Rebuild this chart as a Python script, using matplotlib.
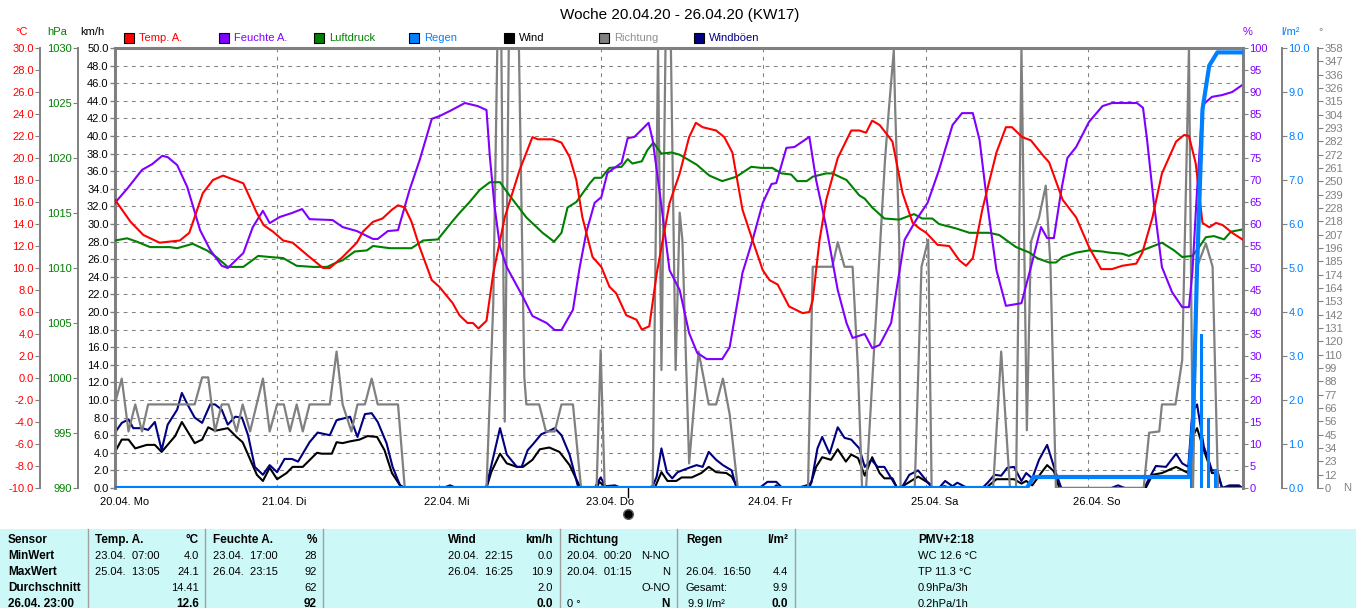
import matplotlib

matplotlib.use("Agg")
import matplotlib.pyplot as plt
from matplotlib import font_manager
from matplotlib.lines import Line2D
from matplotlib.patches import Rectangle
from matplotlib.transforms import offset_copy


W, H = 1356, 608
DPI = 100
PT = 72 / DPI  # points per pixel

installed = {f.name for f in font_manager.fontManager.ttflist}
NARROW = "Liberation Sans Narrow" if "Liberation Sans Narrow" in installed else "Liberation Sans"
plt.rcParams["font.family"] = ["Liberation Sans", "DejaVu Sans"]
plt.rcParams["axes.unicode_minus"] = False

# ---- data (hour since 20.04. 00:00, value) ----
temp = [(0, 16.2), (2.3, 14.2), (4.2, 13.0), (6.6, 12.3), (9.6, 12.5), (11, 13.2), (13, 16.8),
        (14.5, 18.0), (16, 18.4), (19, 17.7), (21, 15.0), (22, 13.9), (23.4, 13.3), (24.9, 12.5),
        (26.3, 12.3), (28.8, 11.0), (30.8, 10.0), (31.8, 10.0), (33.7, 11.0), (35.8, 12.3),
        (36.7, 13.3), (38.2, 14.2), (39.6, 14.5), (41, 15.3), (41.9, 15.7), (42.9, 15.5),
        (43.9, 14.2), (45.1, 11.9), (46.9, 8.9), (48, 8.3), (50, 6.8), (51, 5.7), (52.2, 5.0),
        (53, 5.0), (53.8, 4.5), (55, 5.2), (56, 9.5), (57.7, 14.6), (59.9, 18.9), (61.8, 21.9),
        (62.6, 21.7), (64.8, 21.7), (66.1, 21.4), (67.3, 20.1), (68.3, 18.0), (69.2, 14.6),
        (70.7, 11.0), (72, 10.1), (73.2, 8.3), (74.2, 7.7), (75.7, 5.7), (77.2, 5.3), (78, 4.4),
        (79.1, 4.7), (80.2, 9.5), (82.1, 15.9), (83.6, 18.6), (85, 21.9), (86, 23.2), (87, 22.8),
        (89, 22.5), (90.2, 21.9), (91.4, 20.5), (92.9, 15.3), (94.4, 12.5), (95.9, 9.8),
        (96.9, 8.9), (98.1, 8.5), (99.8, 6.5), (101.8, 5.9), (102.8, 6.0), (103.3, 7.1),
        (104.3, 12.5), (105.3, 16.2), (107, 20.0), (109, 22.5), (110.2, 22.5), (111.2, 22.3),
        (112.1, 23.4), (113.2, 23.0), (114.6, 21.9), (115.1, 21.5), (116.6, 16.8), (118.1, 14.1),
        (119.1, 13.6), (120.1, 13.2), (121.8, 12.1), (123.5, 12.0), (125, 10.7), (126, 10.2),
        (127, 10.9), (128.4, 15.3), (130.5, 20.5), (131.9, 22.8), (132.8, 22.8), (134.3, 21.9),
        (135.6, 21.6), (137.3, 20.3), (138.3, 19.6), (140.3, 16.2), (142.3, 14.6), (144.2, 11.9),
        (146, 9.9), (147.6, 9.9), (149.1, 10.2), (151.2, 10.4), (152.1, 11.4), (153.6, 14.6),
        (155, 18.6), (157.1, 21.5), (158.3, 22.1), (159, 22.0), (160, 19.5), (161, 14.1),
        (162, 13.7), (163, 14.1), (164, 13.9), (165.4, 13.2), (166.9, 12.6)]

humidity = [(0, 64.8), (1.9, 68.2), (4, 72.3), (5.5, 73.6), (7, 75.5), (7.8, 75.2), (9.2, 73.4),
            (10.7, 68.4), (12.6, 58.6), (14.1, 54.1), (15.8, 50.5), (16.7, 50.0), (19, 53.4),
            (20.4, 59.3), (21.9, 63.0), (22.9, 60.2), (24.4, 61.6), (26.2, 62.5), (27.7, 63.4),
            (28.8, 61.1), (32.2, 60.9), (33.7, 59.3), (35.8, 58.4), (38.2, 56.6), (38.9, 56.6),
            (40.4, 58.4), (41.9, 58.6), (43.6, 67.7), (45.1, 74.5), (46.9, 83.9), (48, 84.5),
            (49.6, 85.7), (51.8, 87.5), (53.7, 86.8), (55, 85.9), (55.5, 75.2), (56.2, 63.9),
            (57, 54.8), (58, 50.2), (60.4, 43.4), (61.8, 39.1), (63.9, 37.5), (65.1, 35.9),
            (66.1, 35.9), (67.8, 40.5), (68.8, 50.2), (69.8, 58.2), (71, 64.8), (72, 66.1),
            (72.9, 71.6), (75, 73.9), (75.9, 79.5), (76.9, 79.8), (79, 83.0), (79.6, 79.1),
            (80.6, 67.7), (82.1, 49.5), (83.6, 45.0), (85, 35.2), (86.2, 30.7), (87.6, 29.3),
            (89.9, 29.3), (91, 32.0), (92.9, 48.9), (94.4, 56.4), (95.9, 64.8), (97.2, 69.1),
            (97.9, 69.3), (99.4, 77.3), (100.6, 77.5), (102.8, 79.8), (103.8, 70.0), (105.3, 59.3),
            (107, 45.0), (108.3, 37.5), (109.2, 34.1), (110.2, 34.6), (111, 35.0), (112.1, 31.8),
            (113.2, 32.5), (114.9, 37.5), (116.9, 56.4), (118.6, 60.9), (120.3, 64.8), (122, 72.3),
            (124, 82.5), (125.4, 85.2), (127, 85.2), (128, 79.1), (129.2, 63.9), (130.5, 49.5),
            (131.9, 41.4), (134.2, 42.0), (135.6, 50.2), (137.1, 59.3), (138, 56.8), (139, 56.8),
            (140.1, 67.7), (141, 75.0), (142.3, 77.5), (143.2, 80.2), (144.2, 83.2), (146.2, 86.8),
            (147.6, 87.5), (151.3, 87.5), (152.2, 86.4), (152.8, 79.1), (153.8, 64.8), (155, 50.2),
            (156.5, 44.5), (158, 41.1), (159, 41.1), (159.5, 48.9), (160.2, 67.7), (161, 87.0),
            (162.4, 88.9), (163.9, 89.3), (165.4, 90.0), (166.9, 91.6)]

pressure = [(0, 1012.5), (1.8, 1012.7), (3.2, 1012.4), (5.2, 1011.9), (8.1, 1011.9), (9.2, 1011.8),
            (11.5, 1012.2), (13.6, 1011.6), (15, 1011.0), (16.7, 1010.1), (19, 1010.1),
            (21.2, 1011.1), (22.9, 1011.0), (24.9, 1010.9), (26.9, 1010.2), (29.3, 1010.1),
            (31.4, 1010.1), (32.8, 1010.5), (33.7, 1010.7), (35.5, 1011.5), (37.3, 1011.6),
            (38.2, 1012.0), (40.7, 1011.8), (43.9, 1011.8), (45.6, 1012.5), (47.8, 1012.6),
            (49.9, 1014.2), (51, 1015.0), (52.5, 1016.0), (54, 1017.1), (55.5, 1017.8),
            (57, 1017.8), (58.4, 1016.6), (60.9, 1014.6), (63.3, 1013.2), (65, 1012.4),
            (66.1, 1013.2), (67, 1015.5), (68.3, 1016.0), (70.3, 1017.7), (71, 1018.2),
            (72, 1018.2), (73.2, 1019.1), (75, 1019.2), (75.9, 1019.9), (76.6, 1019.5),
            (78, 1019.7), (78.8, 1020.7), (79.7, 1021.4), (80.9, 1020.4), (82.4, 1020.5),
            (83.6, 1020.3), (86.1, 1019.4), (88, 1018.4), (89.9, 1017.9), (92, 1018.3),
            (94.2, 1019.2), (95.7, 1019.1), (97.3, 1019.1), (98.7, 1018.6), (100.1, 1018.5),
            (101, 1017.9), (102.4, 1017.9), (103.3, 1018.3), (105.3, 1018.6), (106.2, 1018.6),
            (108.3, 1018.0), (110.2, 1016.6), (111, 1016.3), (112.1, 1015.5), (113.9, 1014.5),
            (116.1, 1014.4), (118.3, 1014.9), (119.5, 1014.5), (121, 1014.5), (122, 1014.0),
            (124.5, 1013.6), (126.5, 1013.2), (129.4, 1013.2), (130.9, 1013.0), (133.4, 1011.9),
            (135.4, 1011.4), (136.5, 1010.9), (138.3, 1010.5), (139.3, 1010.5), (140.3, 1011.0),
            (142.3, 1011.4), (144.2, 1011.6), (146.2, 1011.5), (147.2, 1011.4), (149.1, 1011.3),
            (150.1, 1011.1), (152.1, 1011.6), (155, 1012.3), (156.8, 1011.6), (158, 1011.0),
            (159.5, 1011.1), (160.5, 1011.9), (161.5, 1012.8), (162.7, 1012.9), (164.2, 1012.6),
            (165.2, 1013.3), (166.9, 1013.5)]

wind = [(0, 4.1), (1, 5.5), (2, 5.5), (3, 4.5), (4.7, 4.9), (5.9, 4.9), (6.9, 4.1), (8.9, 5.9),
        (9.9, 7.5), (11.8, 5.1), (12.9, 5.5), (13.8, 6.9), (14.8, 6.5), (16.7, 6.8), (18, 5.8),
        (18.9, 5.2), (21, 1.5), (21.9, 0.8), (22.9, 2.3), (24, 1.0), (25.4, 1.7), (26.3, 2.4),
        (27.8, 2.4), (29.9, 4.0), (30.6, 3.9), (32.1, 3.9), (32.8, 5.2), (33.7, 5.1), (34.8, 5.3),
        (36.2, 5.5), (37.4, 5.9), (38.8, 5.8), (39.9, 4.3), (41, 1.7), (42.2, 0.3), (42.9, 0),
        (55, 0), (55.7, 1.8), (57, 3.9), (58, 2.8), (59.5, 2.4), (60.4, 2.4), (61.8, 3.2),
        (62.9, 4.4), (64.3, 4.6), (65.8, 4.1), (67.3, 2.6), (68.8, 0.2), (69.2, 0), (71.3, 0),
        (71.7, 0.7), (72.5, 0.2), (73, 0), (79.9, 0), (80.9, 1.8), (81.8, 0.8), (83.1, 0.8),
        (83.9, 1.2), (85.4, 1.2), (86.8, 1.7), (87.9, 2.4), (89, 1.8), (90.5, 1.7), (91.3, 1.3),
        (92.2, 0), (97.5, 0), (97.9, 0.3), (98.4, 0), (102.8, 0), (103.8, 2.4), (104.7, 3.5),
        (106, 3.2), (107, 4.4), (108.2, 3.0), (109, 3.8), (110, 3.4), (111, 1.4), (112.1, 3.5),
        (113.2, 1.7), (113.9, 1.1), (115.1, 1.1), (115.8, 0), (116.6, 0.2), (118.9, 1.3),
        (120.6, 0.5), (121, 0), (122.9, 0.2), (123.5, 0), (129, 0), (129.4, 0.3), (130.5, 1.0),
        (133.1, 1.0), (134.2, 0.5), (134.9, 0.8), (135.8, 0.3), (137.1, 1.7), (138, 2.6),
        (139, 1.9), (139.8, 0), (152.6, 0), (153.6, 1.5), (155, 1.7), (157.1, 2.4), (158.9, 1.7),
        (159.5, 5.8), (160.2, 6.8), (161.2, 4.3), (162.4, 1.7), (163.2, 1.7), (163.9, 0),
        (165, 0.2), (166.4, 0.2), (166.9, 0)]

gusts = [(0, 6.3), (1, 7.4), (2, 7.8), (2.7, 6.8), (4, 6.8), (4.9, 6.6), (5.9, 7.5), (6.9, 4.3),
         (7.8, 7.2), (9.2, 8.9), (9.9, 10.8), (10.8, 9.4), (11.8, 8.0), (12.9, 7.4), (14.1, 9.5),
         (14.8, 9.5), (15.8, 8.9), (16.7, 7.2), (17.8, 8.1), (18.8, 8.0), (19.7, 6.0), (20.7, 2.4),
         (21.9, 1.5), (22.9, 2.6), (24, 1.8), (25.1, 3.3), (26.2, 3.3), (27.1, 3.0), (28.8, 5.2),
         (30, 6.3), (31.8, 6.0), (32.8, 7.7), (34.8, 8.1), (35.9, 5.8), (37, 8.4), (38, 8.5),
         (38.9, 7.5), (40.2, 5.1), (41.1, 2.4), (42.2, 0.3), (42.9, 0), (48.5, 0), (49.6, 0.3),
         (50.6, 0), (54.4, 0), (55, 0.2), (57, 6.8), (58, 3.8), (59.5, 2.4), (60.2, 2.4),
         (61.1, 4.3), (61.8, 4.9), (63.1, 6.1), (64.3, 6.5), (65.1, 6.8), (66.1, 6.0), (67.3, 3.8),
         (68.5, 0.3), (69, 0), (71, 0), (71.9, 1.2), (72.6, 0.2), (74, 0.3), (75, 0), (78.7, 0),
         (79.6, 0.2), (80.2, 1.3), (80.9, 4.5), (81.7, 1.8), (82.5, 1.1), (83.3, 1.8), (85, 2.3),
         (86.1, 2.6), (87, 2.4), (87.9, 4.1), (89, 3.2), (90, 2.6), (91.3, 2.0), (92, 0),
         (95.4, 0), (96.6, 0.7), (97.9, 0.7), (98.8, 0), (101, 0), (102.4, 0.3), (103.1, 0.6),
         (104, 4.5), (104.7, 5.8), (105.8, 3.9), (107, 6.9), (108, 5.7), (109, 5.5), (110.2, 4.5),
         (111, 2.4), (112, 3.2), (112.9, 2.4), (113.9, 2.4), (115.8, 0), (116.6, 0.2),
         (117.6, 1.5), (118.9, 2.0), (121, 0), (122, 0), (122.9, 0.8), (124, 0.2), (124.7, 0.6),
         (125.7, 0.2), (126.3, 0), (128.4, 0), (129.2, 0.6), (130.2, 1.5), (131.2, 1.4),
         (132.1, 2.3), (133.1, 2.4), (134.2, 0.8), (134.9, 1.7), (135.8, 1.1), (136.8, 3.2),
         (138, 4.9), (139.3, 1.7), (140.1, 0), (147.5, 0), (148.5, 0.3), (149.5, 0), (152.4, 0),
         (153.1, 1.1), (154.1, 2.5), (155.6, 2.4), (157.1, 3.9), (158, 2.8), (158.9, 2.4),
         (159.5, 8.6), (160.2, 9.5), (161.2, 4.7), (161.9, 3.2), (162.4, 2.0), (163.2, 2.0),
         (163.9, 0), (165, 0.3), (166.4, 0.3), (166.9, 0)]

direction = [(0, 69), (1, 89), (2, 46), (3, 68), (4, 46), (4.9, 68), (11.8, 68), (12.9, 90),
             (13.8, 90), (14.8, 46), (15.8, 68), (16.8, 68), (18, 46), (18.9, 68), (20, 46),
             (21.9, 89), (22.9, 46), (24, 68), (25, 68), (25.9, 46), (26.9, 68), (27.8, 46),
             (28.8, 68), (31.8, 68), (32.8, 111), (33.7, 68), (35, 46), (35.9, 68), (37, 68),
             (38, 89), (38.9, 68), (41.9, 68), (42.9, 0), (55, 0), (56, 150), (56.6, 358),
             (57.2, 358), (57.7, 54), (58.3, 358), (59.8, 358), (60.6, 90), (60.9, 68), (62.8, 68),
             (63.8, 46), (65.1, 46), (66.1, 68), (67.8, 68), (69, 0), (71.3, 0), (71.9, 112),
             (72.5, 0), (79.6, 0), (80.4, 358), (80.9, 96), (81.5, 358), (82.3, 358), (83, 96),
             (83.6, 224), (84, 202), (85, 20), (86.4, 111), (87.9, 68), (89, 68), (90, 89),
             (91, 60), (92.2, 0), (102.6, 0), (103.3, 180), (106.2, 180), (107, 200), (108, 180),
             (109.2, 180), (110, 96), (110.6, 0), (111.2, 0), (114, 267), (114.6, 310),
             (115.3, 356), (115.5, 310), (116.1, 202), (116.3, 0), (118.4, 0), (119.4, 180),
             (120.4, 202), (120.9, 0), (130, 0), (131.2, 111), (132.5, 0), (133.4, 0),
             (134.2, 358), (135, 47), (135.6, 200), (136.8, 220), (137.8, 246), (138.5, 180),
             (139.3, 0), (152.3, 0), (153.1, 45), (154.6, 46), (155, 68), (157, 68), (158, 104),
             (159, 358), (159.6, 0), (160.2, 180), (161.5, 199), (162.5, 180), (163.3, 0),
             (166.9, 0)]

rain_total = [(0, 0), (135, 0), (136, 0.25), (159, 0.25), (159.6, 1.5), (160.2, 5.0),
              (161, 8.6), (162, 9.6), (163.2, 9.9), (166.9, 9.9)]
rain_rate = [(159.3, 1.2), (160.9, 3.5), (161.9, 1.6), (162.9, 0.4)]

days = ["20.04. Mo", "21.04. Di", "22.04. Mi", "23.04. Do", "24.04. Fr", "25.04. Sa", "26.04. So"]
dir_labels = [0, 12, 23, 34, 45, 56, 66, 77, 88, 99, 110, 120, 131, 142, 153, 164, 174, 185,
              196, 207, 218, 228, 239, 250, 261, 272, 282, 293, 304, 315, 326, 336, 347, 358]
moon_hour = 75.9

legend = [("Temp. A.", "#FF0000", "#FF0000"), ("Feuchte A.", "#8000FF", "#8000FF"),
          ("Luftdruck", "#008000", "#008000"), ("Regen", "#0080FF", "#0080FF"),
          ("Wind", "#000000", "#000000"), ("Richtung", "#808080", "#909090"),
          ("Windböen", "#000080", "#000080")]

table_rows = [
    # (x, text, bold, align) per row
    [(8, "Sensor", True, "left"), (95, "Temp. A.", True, "left"), (199, "°C", True, "right"),
     (213, "Feuchte A.", True, "left"), (317, "%", True, "right"), (448, "Wind", True, "left"),
     (553, "km/h", True, "right"), (567, "Richtung", True, "left"), (686, "Regen", True, "left"),
     (788, "l/m²", True, "right"), (918, "PMV+2:18", True, "left")],
    [(8, "MinWert", True, "left"), (95, "23.04.  07:00", False, "left"), (199, "4.0", False, "right"),
     (213, "23.04.  17:00", False, "left"), (317, "28", False, "right"),
     (448, "20.04.  22:15", False, "left"), (553, "0.0", False, "right"),
     (567, "20.04.  00:20", False, "left"), (670, "N-NO", False, "right"),
     (918, "WC 12.6 °C", False, "left")],
    [(8, "MaxWert", True, "left"), (95, "25.04.  13:05", False, "left"), (199, "24.1", False, "right"),
     (213, "26.04.  23:15", False, "left"), (317, "92", False, "right"),
     (448, "26.04.  16:25", False, "left"), (553, "10.9", False, "right"),
     (567, "20.04.  01:15", False, "left"), (670, "N", False, "right"),
     (686, "26.04.  16:50", False, "left"), (788, "4.4", False, "right"),
     (918, "TP 11.3 °C", False, "left")],
    [(8, "Durchschnitt", True, "left"), (199, "14.41", False, "right"), (317, "62", False, "right"),
     (553, "2.0", False, "right"), (670, "O-NO", False, "right"), (686, "Gesamt:", False, "left"),
     (788, "9.9", False, "right"), (918, "0.9hPa/3h", False, "left")],
    [(8, "26.04. 23:00", True, "left"), (199, "12.6", True, "right"), (317, "92", True, "right"),
     (553, "0.0", True, "right"), (567, "0 °", False, "left"), (670, "N", True, "right"),
     (688, "9.9 l/m²", False, "left"), (788, "0.0", True, "right"), (918, "0.2hPa/1h", False, "left")],
]
table_cols = [88, 205, 323, 560, 677, 795]


def fx(px):
    return px / W


def fy(py):
    return 1 - py / H


def split(pairs):
    return [p[0] for p in pairs], [p[1] for p in pairs]


def main() -> None:
    fig = plt.figure(figsize=(W / DPI, H / DPI), dpi=DPI)
    rect = [fx(115), fy(488), (1243 - 115) / W, 440 / H]
    gray = "#808080"

    ax = fig.add_axes(rect)
    extra = [fig.add_axes(rect) for _ in range(5)]
    ax_dir, ax_p, ax_h, ax_t, ax_r = extra
    for a in [ax] + extra:
        a.patch.set_visible(False)
        a.set_xlim(0, 167)
        for s in a.spines.values():
            s.set_visible(False)
    for a in extra:
        a.set_xticks([])

    # km/h axis with grid
    ax.set_ylim(0, 50)
    ax.set_yticks([v * 2 for v in range(26)])
    ax.set_yticklabels([f"{v * 2:.1f}" for v in range(26)])
    ax.set_xticks([d * 24 for d in range(7)])
    ax.set_xticklabels([])
    ax.tick_params(axis="x", length=0)
    ax.tick_params(axis="y", length=5 * PT, width=1, color=gray, labelsize=8, pad=1, labelcolor="black")
    ax.grid(True, color=gray, ls=(0, (3.6, 4.3)), lw=0.75)
    for side in ("left", "top"):
        ax.spines[side].set_visible(True)
        ax.spines[side].set_color(gray)
        ax.spines[side].set_linewidth(2.2)

    h, v = split(wind)
    ax.plot(h, v, color="#000000", lw=1.5)
    h, v = split(gusts)
    ax.plot(h, v, color="#000080", lw=1.5)

    # direction
    ax_dir.set_ylim(0, 358)
    ax_dir.yaxis.tick_right()
    ax_dir.set_yticks([k * 358 / 33 for k in range(34)])
    ax_dir.set_yticklabels([str(d) for d in dir_labels])
    ax_dir.spines["right"].set_visible(True)
    ax_dir.spines["right"].set_position(("outward", 75 * PT))
    ax_dir.spines["right"].set_color(gray)
    ax_dir.spines["right"].set_linewidth(1.4)
    ax_dir.tick_params(axis="y", length=5 * PT, color=gray, labelcolor=gray, labelsize=8, pad=1)
    h, v = split(direction)
    ax_dir.plot(h, v, color=gray, lw=1.6)

    # pressure
    ax_p.set_ylim(990, 1030)
    ax_p.set_yticks(range(990, 1031, 5))
    ax_p.spines["left"].set_visible(True)
    ax_p.spines["left"].set_position(("outward", 37 * PT))
    ax_p.spines["left"].set_color(gray)
    ax_p.spines["left"].set_linewidth(1.4)
    ax_p.tick_params(axis="y", length=5 * PT, color=gray, labelcolor="#008000", labelsize=8, pad=1)
    h, v = split(pressure)
    ax_p.plot(h, v, color="#008000", lw=1.5)

    # humidity
    ax_h.set_ylim(0, 100)
    ax_h.yaxis.tick_right()
    ax_h.set_yticks(range(0, 101, 5))
    ax_h.spines["right"].set_visible(True)
    ax_h.spines["right"].set_color(gray)
    ax_h.spines["right"].set_linewidth(2.2)
    ax_h.tick_params(axis="y", length=5 * PT, color=gray, labelcolor="#8000FF", labelsize=8, pad=1)
    h, v = split(humidity)
    ax_h.plot(h, v, color="#8000FF", lw=1.5)

    # temperature
    ax_t.set_ylim(-10, 30)
    ax_t.set_yticks(range(-10, 31, 2))
    ax_t.set_yticklabels([f"{t:.1f}" for t in range(-10, 31, 2)])
    ax_t.spines["left"].set_visible(True)
    ax_t.spines["left"].set_position(("outward", 75 * PT))
    ax_t.spines["left"].set_color(gray)
    ax_t.spines["left"].set_linewidth(1.4)
    ax_t.tick_params(axis="y", length=5 * PT, color=gray, labelcolor="#FF0000", labelsize=8, pad=1)
    h, v = split(temp)
    ax_t.plot(h, v, color="#FF0000", lw=1.5)

    # rain
    ax_r.set_ylim(0, 10)
    ax_r.yaxis.tick_right()
    ax_r.set_yticks(range(0, 11))
    ax_r.set_yticklabels([f"{r:.1f}" for r in range(0, 11)])
    ax_r.spines["right"].set_visible(True)
    ax_r.spines["right"].set_position(("outward", 39 * PT))
    ax_r.spines["right"].set_color(gray)
    ax_r.spines["right"].set_linewidth(1.4)
    ax_r.tick_params(axis="y", length=5 * PT, color=gray, labelcolor="#0080FF", labelsize=8, pad=1)
    h, v = split(rain_rate)
    ax_r.bar(h, v, width=0.4, color="#0080FF")
    h, v = split(rain_total)
    ax_r.plot(h, v, color="#0080FF", lw=3)

    # day labels under the axis
    tr = offset_copy(ax.get_xaxis_transform(), fig=fig, x=-15, y=-14, units="dots")
    for i, name in enumerate(days):
        ax.text(i * 24, 0, name, transform=tr, ha="left", va="center", fontsize=8, color="black")

    # moon marker
    ax.plot([moon_hour, moon_hour], [0, -1.0], color="black", lw=1, clip_on=False)
    mt = offset_copy(ax.get_xaxis_transform(), fig=fig, x=0, y=-26, units="dots")
    ax.plot([moon_hour], [0], transform=mt, marker="o", ms=7, color="black",
            markeredgecolor="#606060", clip_on=False)

    # title and axis headers
    fig.text(fx(680), fy(15), "Woche 20.04.20 - 26.04.20 (KW17)", ha="center", va="center", fontsize=11)
    for x, s, c in [(22, "°C", "#FF0000"), (57, "hPa", "#008000"), (92, "km/h", "black"),
                    (1248, "%", "#8000FF"), (1290, "l/m²", "#0080FF"), (1321, "°", gray)]:
        fig.text(fx(x), fy(32), s, ha="center", va="center", fontsize=8, color=c)
    fig.text(fx(1343), fy(488), "N", ha="left", va="center", fontsize=8, color=gray)

    # legend
    for i, (name, fill, tcol) in enumerate(legend):
        x0 = 124 + i * 95
        fig.patches.append(Rectangle((fx(x0), fy(43)), 10 / W, 10 / H, facecolor=fill,
                                     edgecolor="black", lw=0.8, transform=fig.transFigure))
        fig.text(fx(x0 + 15), fy(38), name, ha="left", va="center", fontsize=8, color=tcol)

    # statistics table
    fig.patches.append(Rectangle((0, 0), 1, fy(529), facecolor="#CCF8F8", edgecolor="none",
                                 transform=fig.transFigure))
    for x in table_cols:
        fig.lines.append(Line2D([fx(x), fx(x)], [fy(529), 0], color="#A0A0A0", lw=1,
                                transform=fig.transFigure))
    for r, row in enumerate(table_rows):
        y = 540 + r * 16
        for x, s, bold, align in row:
            fig.text(fx(x), fy(y), s, ha=align, va="center", fontsize=8.5 if bold else 8,
                     family=NARROW, weight="bold" if bold else "normal", color="black")

    fig.savefig("out.png", dpi=DPI)
    plt.close(fig)


if __name__ == "__main__":
    main()
